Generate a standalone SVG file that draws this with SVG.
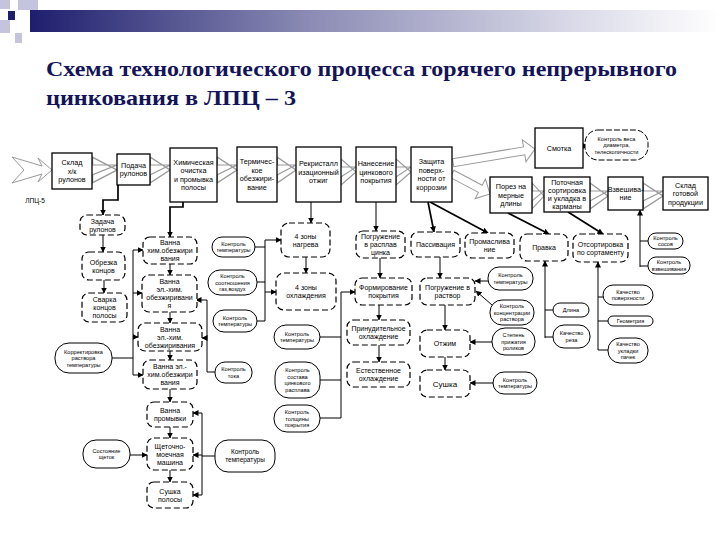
<svg xmlns="http://www.w3.org/2000/svg" width="720" height="540" viewBox="0 0 720 540">
<defs>
<linearGradient id="bar" x1="0" y1="0" x2="1" y2="0">
<stop offset="0" stop-color="#1e1e6e"/>
<stop offset="0.4" stop-color="#8a8ab4"/>
<stop offset="0.8" stop-color="#dcdcea"/>
<stop offset="1" stop-color="#ffffff"/>
</linearGradient>
<marker id="a" markerWidth="6" markerHeight="6" refX="5.5" refY="3" orient="auto" markerUnits="userSpaceOnUse"><path d="M0,0 L6,3 L0,6 Z" fill="#000"/></marker>
<path id="ha" d="M0,-5 H-10 V-13 L0,0 L-10,13 V5 Z"/>
</defs>
<style>
.box{fill:#fff;stroke:#000;stroke-width:1.3}
.dash{fill:#fff;stroke:#000;stroke-width:1.2;stroke-dasharray:6 3}
.oval{fill:#fff;stroke:#000;stroke-width:1}
.ovald{fill:#fff;stroke:#000;stroke-width:1;stroke-dasharray:6 2}
.ha{fill:#fff;stroke:#9a9a9a;stroke-width:1}
.c{fill:none;stroke:#000;stroke-width:1}
.ct{fill:none;stroke:#000;stroke-width:1.7}
text{font-family:"Liberation Sans",Arial,sans-serif;text-anchor:middle;fill:#000}
.tb{font-size:7.2px}
.td{font-size:7px}
.to{font-size:5.6px}
.title{font-family:"Liberation Serif","Times New Roman",serif;font-weight:bold;font-size:21px;text-anchor:start;fill:#14145a}
</style>
<rect width="720" height="540" fill="#fff"/>
<!-- header decoration -->
<rect x="30" y="10" width="690" height="22" fill="url(#bar)"/>
<rect x="0" y="0" width="10" height="9" fill="#c4c4de"/>
<rect x="18" y="0" width="20" height="10" fill="#c4c4de"/>
<rect x="0" y="20" width="10" height="13" fill="#c4c4de"/>
<rect x="15" y="33" width="7" height="10" fill="#c4c4de"/>
<rect x="8" y="11" width="7" height="9" fill="#1e1e6e"/>
<text class="title" x="46" y="76" textLength="631" lengthAdjust="spacingAndGlyphs">Схема технологического процесса горячего непрерывного</text>
<text class="title" x="46" y="105" textLength="250" lengthAdjust="spacingAndGlyphs">цинкования в ЛПЦ – 3</text>

<!-- hollow arrows -->
<g id="hollow-arrows">
<polygon class="ha" points="12,157 42,166 38,158 52,170 38,182 42,174 12,183 24,170"/>
<use href="#ha" class="ha" transform="translate(117,170) scale(2.5,1)"/>
<use href="#ha" class="ha" transform="translate(170,170) scale(2,1)"/>
<use href="#ha" class="ha" transform="translate(237,170) scale(2,1)"/>
<use href="#ha" class="ha" transform="translate(296,170) scale(1.9,1)"/>
<use href="#ha" class="ha" transform="translate(356,172) scale(1.5,1)"/>
<use href="#ha" class="ha" transform="translate(411,172) scale(1.5,1)"/>
<use href="#ha" class="ha" transform="translate(544,196) scale(1.2,1)"/>
<use href="#ha" class="ha" transform="translate(608,196) scale(1.8,1)"/>
<use href="#ha" class="ha" transform="translate(663,196) scale(2,1)"/>
<path class="ha" transform="translate(535,149) rotate(-9.5)" d="M-83,-4 H-11 V-11 L0,0 L-11,11 V4 H-83 Z"/>
<path class="ha" transform="translate(490,194) rotate(28)" d="M-43,-4 H-11 V-11 L0,0 L-11,11 V4 H-43 Z"/>
</g>
<text class="to" x="35" y="203" style="font-size:6.5px">ЛПЦ-5</text>

<!-- connectors -->
<g id="connectors">
<path class="ct" d="M118,185 V200 H103 V215" marker-end="url(#a)"/>
<path class="c" d="M103,235 V252" marker-end="url(#a)"/>
<path class="c" d="M104,280 V293" marker-end="url(#a)"/>
<path class="ct" d="M183,202 V207 H170 V237" marker-end="url(#a)"/>
<path class="c" d="M170,264 V275" marker-end="url(#a)"/>
<path class="c" d="M170,312 V323" marker-end="url(#a)"/>
<path class="c" d="M170,351 V360" marker-end="url(#a)"/>
<path class="c" d="M170,389 V402" marker-end="url(#a)"/>
<path class="c" d="M170,427 V438" marker-end="url(#a)"/>
<path class="c" d="M170,470 V482" marker-end="url(#a)"/>
<path class="c" d="M112,358 H133 M133,250 V375"/>
<path class="c" d="M133,250 H143" marker-end="url(#a)"/>
<path class="c" d="M133,293 H142" marker-end="url(#a)"/>
<path class="c" d="M133,337 H138" marker-end="url(#a)"/>
<path class="c" d="M133,375 H143" marker-end="url(#a)"/>
<path class="c" d="M215,372 H207 V300 H196" marker-end="url(#a)"/>
<path class="c" d="M207,338 H202" marker-end="url(#a)"/>
<path class="c" d="M130,455 H147" marker-end="url(#a)"/>
<path class="c" d="M215,456 H202 M202,413 V495"/>
<path class="c" d="M202,413 H193" marker-end="url(#a)"/>
<path class="c" d="M202,455 H193" marker-end="url(#a)"/>
<path class="c" d="M202,495 H193" marker-end="url(#a)"/>
<path class="c" d="M255,247 H265 M257,282 H265 M257,321 H265 M265,240 V321"/>
<path class="c" d="M265,240 H281" marker-end="url(#a)"/>
<path class="c" d="M265,292 H276" marker-end="url(#a)"/>
<path class="c" d="M311,202 V223" marker-end="url(#a)"/>
<path class="c" d="M306,257 V273" marker-end="url(#a)"/>
<path class="c" d="M376,202 V231" marker-end="url(#a)"/>
<path class="c" d="M380,258 V278" marker-end="url(#a)"/>
<path class="c" d="M379,305 V320" marker-end="url(#a)"/>
<path class="c" d="M379,345 V362" marker-end="url(#a)"/>
<path class="c" d="M320,337 H341 M320,380 H341 M320,418 H341 M341,292 V418"/>
<path class="c" d="M341,292 H355" marker-end="url(#a)"/>
<path class="ct" d="M428,202 L434,232" marker-end="url(#a)"/>
<path class="ct" d="M430,202 L488,233" marker-end="url(#a)"/>
<path class="c" d="M440,257 V278" marker-end="url(#a)"/>
<path class="c" d="M445,305 V330" marker-end="url(#a)"/>
<path class="c" d="M445,357 V370" marker-end="url(#a)"/>
<path class="c" d="M488,281 H475" marker-end="url(#a)"/>
<path class="c" d="M492,305 L476,291" marker-end="url(#a)"/>
<path class="c" d="M492,342 H470" marker-end="url(#a)"/>
<path class="c" d="M493,383 H470" marker-end="url(#a)"/>
<path class="ct" d="M508,213 L549,234" marker-end="url(#a)"/>
<path class="ct" d="M568,212 L603,234" marker-end="url(#a)"/>
<path class="c" d="M545,338 V261" marker-end="url(#a)"/>
<path class="c" d="M545,310 H553 M545,337 H553"/>
<path class="c" d="M598,350 V262" marker-end="url(#a)"/>
<path class="c" d="M598,297 H603 M598,321 H608 M598,350 H608"/>
<path class="c" d="M640,267 V210" marker-end="url(#a)"/>
<path class="c" d="M640,241 H648 M640,266 H648"/>
<path class="c" d="M583,146 H588" marker-end="url(#a)"/>
</g>

<!-- solid process boxes -->
<g id="n-sklad"><rect class="box" x="52" y="153" width="40" height="36"/><text class="tb"><tspan x="72" y="165">Склад</tspan><tspan x="72" y="173.5">х/к</tspan><tspan x="72" y="182">рулонов</tspan></text></g>
<g id="n-podacha"><rect class="box" x="117" y="154" width="33" height="31"/><text class="tb"><tspan x="133.5" y="167.8">Подача</tspan><tspan x="133.5" y="176.3">рулонов</tspan></text></g>
<g id="n-him"><rect class="box" x="170" y="148" width="47" height="54"/><text class="tb"><tspan x="193.5" y="164.8">Химическая</tspan><tspan x="193.5" y="173.3">очистка</tspan><tspan x="193.5" y="181.8">и промывка</tspan><tspan x="193.5" y="190.3">полосы</tspan></text></g>
<g id="n-term"><rect class="box" x="237" y="147" width="40" height="55"/><text class="tb"><tspan x="257" y="164.3">Термичес-</tspan><tspan x="257" y="172.8">кое</tspan><tspan x="257" y="181.3">обезжири-</tspan><tspan x="257" y="189.8">вание</tspan></text></g>
<g id="n-rekr"><rect class="box" x="296" y="147" width="45" height="55"/><text class="tb"><tspan x="318.5" y="166">Рекристалл</tspan><tspan x="318.5" y="174.5">изационный</tspan><tspan x="318.5" y="183">отжиг</tspan></text></g>
<g id="n-nanes"><rect class="box" x="356" y="147" width="40" height="55"/><text class="tb"><tspan x="376" y="166">Нанесение</tspan><tspan x="376" y="174.5">цинкового</tspan><tspan x="376" y="183">покрытия</tspan></text></g>
<g id="n-zash"><rect class="box" x="411" y="147" width="41" height="55"/><text class="tb"><tspan x="431.5" y="164.3">Защита</tspan><tspan x="431.5" y="172.8">поверх-</tspan><tspan x="431.5" y="181.3">ности от</tspan><tspan x="431.5" y="189.8">коррозии</tspan></text></g>
<g id="n-smotka"><rect class="box" x="535" y="128" width="48" height="40"/><text class="tb"><tspan x="559" y="150.5">Смотка</tspan></text></g>
<g id="n-porez"><rect class="box" x="490" y="177" width="42" height="36"/><text class="tb"><tspan x="511" y="189">Порез на</tspan><tspan x="511" y="197.5">мерные</tspan><tspan x="511" y="206">длины</tspan></text></g>
<g id="n-potoch"><rect class="box" x="544" y="177" width="46" height="35"/><text class="tb"><tspan x="567" y="185.3">Поточная</tspan><tspan x="567" y="193.1">сортировка</tspan><tspan x="567" y="200.9">и укладка в</tspan><tspan x="567" y="208.7">карманы</tspan></text></g>
<g id="n-vzvesh"><rect class="box" x="608" y="177" width="35" height="33"/><text class="tb"><tspan x="625.5" y="191.8">Взвешива-</tspan><tspan x="625.5" y="200.3">ние</tspan></text></g>
<g id="n-sklad-gp"><rect class="box" x="663" y="177" width="45" height="33"/><text class="tb"><tspan x="685.5" y="187.5">Склад</tspan><tspan x="685.5" y="196">готовой</tspan><tspan x="685.5" y="204.5">продукции</tspan></text></g>

<!-- dashed operations -->
<g id="n-zadacha"><rect class="dash" x="80" y="215" width="45" height="20" rx="7"/><text class="td"><tspan x="102.5" y="223.5">Задача</tspan><tspan x="102.5" y="231.5">рулонов</tspan></text></g>
<g id="n-obrezka"><rect class="dash" x="82" y="252" width="43" height="28" rx="7"/><text class="td"><tspan x="103.5" y="264.5">Обрезка</tspan><tspan x="103.5" y="272.5">концов</tspan></text></g>
<g id="n-svarka"><rect class="dash" x="82" y="293" width="45" height="29" rx="7"/><text class="td"><tspan x="104.5" y="302">Сварка</tspan><tspan x="104.5" y="310">концов</tspan><tspan x="104.5" y="318">полосы</tspan></text></g>
<g id="n-vanna1"><rect class="dash" x="143" y="237" width="54" height="27" rx="7"/><text class="td"><tspan x="170" y="245">Ванна</tspan><tspan x="170" y="253">хим.обезжири</tspan><tspan x="170" y="261">вания</tspan></text></g>
<g id="n-vanna2"><rect class="dash" x="142" y="275" width="55" height="37" rx="7"/><text class="td"><tspan x="169.5" y="284">Ванна</tspan><tspan x="169.5" y="292">эл.-хим.</tspan><tspan x="169.5" y="300">обезжиривани</tspan><tspan x="169.5" y="308">я</tspan></text></g>
<g id="n-vanna3"><rect class="dash" x="138" y="323" width="64" height="28" rx="7"/><text class="td"><tspan x="170" y="331.5">Ванна</tspan><tspan x="170" y="339.5">эл.-хим.</tspan><tspan x="170" y="347.5">обезжиривания</tspan></text></g>
<g id="n-vanna4"><rect class="dash" x="143" y="360" width="54" height="29" rx="7"/><text class="td"><tspan x="170" y="369">Ванна эл.-</tspan><tspan x="170" y="377">хим.обезжири</tspan><tspan x="170" y="385">вания</tspan></text></g>
<g id="n-promyv"><rect class="dash" x="147" y="402" width="46" height="25" rx="7"/><text class="td"><tspan x="170" y="413">Ванна</tspan><tspan x="170" y="421">промывки</tspan></text></g>
<g id="n-shetoch"><rect class="dash" x="147" y="438" width="46" height="32" rx="7"/><text class="td"><tspan x="170" y="448.5">Щеточно-</tspan><tspan x="170" y="456.5">моечная</tspan><tspan x="170" y="464.5">машина</tspan></text></g>
<g id="n-sushka-pol"><rect class="dash" x="147" y="482" width="46" height="26" rx="7"/><text class="td"><tspan x="170" y="493.5">Сушка</tspan><tspan x="170" y="501.5">полосы</tspan></text></g>
<g id="n-nagrev"><rect class="dash" x="281" y="223" width="49" height="34" rx="8"/><text class="td"><tspan x="305.5" y="238.5">4 зоны</tspan><tspan x="305.5" y="246.5">нагрева</tspan></text></g>
<g id="n-ohlazh"><rect class="dash" x="276" y="273" width="60" height="37" rx="8"/><text class="td"><tspan x="306" y="290">4 зоны</tspan><tspan x="306" y="298">охлаждения</tspan></text></g>
<g id="n-pogr-rasplav"><rect class="dash" x="356" y="231" width="49" height="27" rx="7"/><text class="td"><tspan x="380.5" y="239">Погружение</tspan><tspan x="380.5" y="247">в расплав</tspan><tspan x="380.5" y="255">цинка</tspan></text></g>
<g id="n-passiv"><rect class="dash" x="411" y="232" width="49" height="25" rx="7"/><text class="td"><tspan x="435.5" y="247">Пассивация</tspan></text></g>
<g id="n-promasl"><rect class="dash" x="465" y="233" width="49" height="25" rx="7"/><text class="td"><tspan x="489.5" y="244">Промаслива</tspan><tspan x="489.5" y="252">ние</tspan></text></g>
<g id="n-pravka"><rect class="dash" x="520" y="234" width="48" height="27" rx="7"/><text class="td"><tspan x="544" y="250">Правка</tspan></text></g>
<g id="n-otsort"><rect class="dash" x="573" y="234" width="55" height="28" rx="7"/><text class="td"><tspan x="600.5" y="246.5">Отсортировка</tspan><tspan x="600.5" y="254.5">по сортаменту</tspan></text></g>
<g id="n-formir"><rect class="dash" x="355" y="278" width="57" height="27" rx="7"/><text class="td"><tspan x="383.5" y="290">Формирование</tspan><tspan x="383.5" y="298">покрытия</tspan></text></g>
<g id="n-prinud"><rect class="dash" x="347" y="320" width="63" height="25" rx="7"/><text class="td"><tspan x="378.5" y="331">Принудительное</tspan><tspan x="378.5" y="339">охлаждение</tspan></text></g>
<g id="n-estestv"><rect class="dash" x="347" y="362" width="63" height="25" rx="7"/><text class="td"><tspan x="378.5" y="373">Естественное</tspan><tspan x="378.5" y="381">охлаждение</tspan></text></g>
<g id="n-pogr-rastvor"><rect class="dash" x="420" y="278" width="55" height="27" rx="7"/><text class="td"><tspan x="447.5" y="290">Погружение в</tspan><tspan x="447.5" y="298">раствор</tspan></text></g>
<g id="n-otzhim"><rect class="dash" x="420" y="330" width="50" height="27" rx="7"/><text class="td"><tspan x="445" y="346">Отжим</tspan></text></g>
<g id="n-sushka"><rect class="dash" x="420" y="370" width="50" height="27" rx="7"/><text class="td" style="font-size:8px"><tspan x="445" y="386.5">Сушка</tspan></text></g>

<!-- control ovals -->
<g id="o-ves"><rect class="ovald" x="585" y="130" width="63" height="30" rx="13"/><text class="to"><tspan x="616.5" y="140.5">Контроль веса</tspan><tspan x="616.5" y="147">диаметра,</tspan><tspan x="616.5" y="153.5">телескопичности</tspan></text></g>
<g id="o-sosov"><rect class="oval" x="648" y="233" width="35" height="16" rx="8"/><text class="to"><tspan x="665.5" y="239.8">Контроль</tspan><tspan x="665.5" y="246.3">сосов</tspan></text></g>
<g id="o-vzv"><rect class="oval" x="648" y="257" width="42" height="17" rx="8"/><text class="to"><tspan x="669" y="264.3">Контроль</tspan><tspan x="669" y="270.8">взвешивания</tspan></text></g>
<g id="o-temp-a"><rect class="oval" x="212" y="237" width="43" height="20" rx="10"/><text class="to"><tspan x="233.5" y="245.8">Контроль</tspan><tspan x="233.5" y="252.3">температуры</tspan></text></g>
<g id="o-sootn"><rect class="oval" x="208" y="270" width="49" height="25" rx="12"/><text class="to"><tspan x="232.5" y="278">Контроль</tspan><tspan x="232.5" y="284.5">соотношения</tspan><tspan x="232.5" y="291">газ,воздух</tspan></text></g>
<g id="o-temp-b"><rect class="oval" x="213" y="310" width="44" height="22" rx="11"/><text class="to"><tspan x="235" y="319.8">Контроль</tspan><tspan x="235" y="326.3">температуры</tspan></text></g>
<g id="o-toka"><rect class="oval" x="215" y="362" width="37" height="21" rx="10"/><text class="to"><tspan x="233.5" y="371.3">Контроль</tspan><tspan x="233.5" y="377.8">тока</tspan></text></g>
<g id="o-korr"><rect class="oval" x="55" y="343" width="57" height="30" rx="14"/><text class="to"><tspan x="83.5" y="353.5">Корректировка</tspan><tspan x="83.5" y="360">раствора</tspan><tspan x="83.5" y="366.5">температуры</tspan></text></g>
<g id="o-shetok"><rect class="oval" x="83" y="440" width="47" height="28" rx="13"/><text class="to"><tspan x="106.5" y="452.8">Состояние</tspan><tspan x="106.5" y="459.3">щеток</tspan></text></g>
<g id="o-temp-c"><rect class="oval" x="215" y="440" width="60" height="32" rx="13"/><text class="to" style="font-size:6.5px"><tspan x="245" y="454">Контроль</tspan><tspan x="245" y="462">температуры</tspan></text></g>
<g id="o-temp-d"><rect class="oval" x="274" y="325" width="46" height="24" rx="12"/><text class="to"><tspan x="297" y="335.8">Контроль</tspan><tspan x="297" y="342.3">температуры</tspan></text></g>
<g id="o-sostav"><rect class="oval" x="275" y="362" width="45" height="36" rx="14"/><text class="to"><tspan x="297.5" y="372.3">Контроль</tspan><tspan x="297.5" y="378.8">состава</tspan><tspan x="297.5" y="385.3">цинкового</tspan><tspan x="297.5" y="391.8">расплава</tspan></text></g>
<g id="o-tolsh"><rect class="oval" x="274" y="405" width="46" height="27" rx="13"/><text class="to"><tspan x="297" y="414">Контроль</tspan><tspan x="297" y="420.5">толщины</tspan><tspan x="297" y="427">покрытия</tspan></text></g>
<g id="o-temp-e"><rect class="oval" x="488" y="267" width="45" height="23" rx="11"/><text class="to"><tspan x="510.5" y="277.3">Контроль</tspan><tspan x="510.5" y="283.8">температуры</tspan></text></g>
<g id="o-konc"><rect class="oval" x="490" y="300" width="44" height="25" rx="12"/><text class="to"><tspan x="512" y="308">Контроль</tspan><tspan x="512" y="314.5">концентрации</tspan><tspan x="512" y="321">раствора</tspan></text></g>
<g id="o-prizh"><rect class="oval" x="492" y="328" width="43" height="27" rx="13"/><text class="to"><tspan x="513.5" y="337">Степень</tspan><tspan x="513.5" y="343.5">прижатия</tspan><tspan x="513.5" y="350">роликов</tspan></text></g>
<g id="o-temp-f"><rect class="oval" x="493" y="372" width="44" height="22" rx="11"/><text class="to"><tspan x="515" y="381.8">Контроль</tspan><tspan x="515" y="388.3">температуры</tspan></text></g>
<g id="o-dlina"><rect class="oval" x="553" y="303" width="36" height="14" rx="7"/><text class="to"><tspan x="571" y="312">Длина</tspan></text></g>
<g id="o-reza"><rect class="oval" x="553" y="325" width="37" height="23" rx="11"/><text class="to"><tspan x="571.5" y="335.3">Качество</tspan><tspan x="571.5" y="341.8">реза</tspan></text></g>
<g id="o-poverh"><rect class="oval" x="603" y="285" width="50" height="20" rx="10"/><text class="to"><tspan x="628" y="293.8">Качество</tspan><tspan x="628" y="300.3">поверхности</tspan></text></g>
<g id="o-geom"><rect class="oval" x="608" y="316" width="45" height="10" rx="5"/><text class="to"><tspan x="630.5" y="323">Геометрия</tspan></text></g>
<g id="o-uklad"><rect class="oval" x="608" y="338" width="40" height="25" rx="12"/><text class="to"><tspan x="628" y="346">Качество</tspan><tspan x="628" y="352.5">укладки</tspan><tspan x="628" y="359">пачек</tspan></text></g>
</svg>
